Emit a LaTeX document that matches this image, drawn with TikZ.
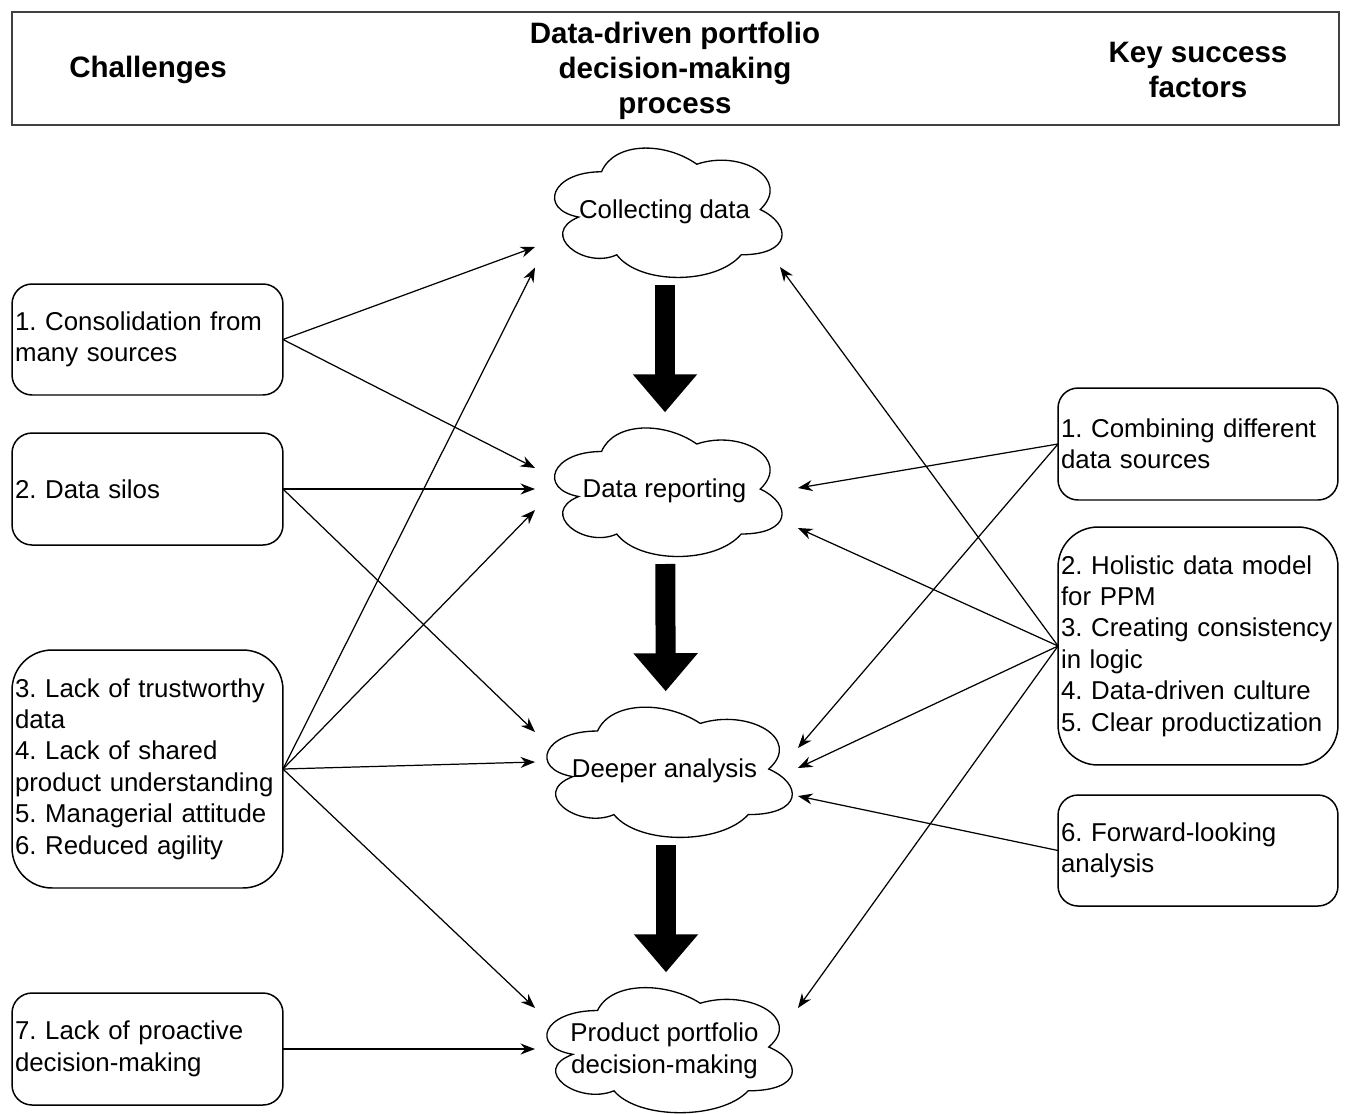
\documentclass[tikz,border=0pt]{standalone}
\usepackage{fontspec}
\setmainfont{Liberation Sans}
\usetikzlibrary{arrows.meta,calc}
\frenchspacing
\hyphenpenalty=10000

\tikzset{
  box/.style={draw, rounded corners=0.4cm, line width=0.85pt, align=left,
    inner xsep=0.06cm, inner ysep=0pt, outer sep=0pt},
  leftbox/.style={box, text width=5.3cm},
  rightbox/.style={box, text width=5.48cm},
  cloudbox/.style={inner sep=0pt, outer sep=0pt, align=center},
  cloudline/.style={draw, line width=0.75pt},
  conn/.style={-{Stealth[length=0.29cm,width=0.22cm]}, line width=0.7pt},
  bigarrow/.style={-{Triangle[width=1.24cm,length=0.76cm]}, line width=0.4cm, shorten >=1pt},
  headtext/.style={font=\fontsize{16.8}{19.9}\selectfont\bfseries, align=center}
}

% draw.io style cloud, #1 = north west corner, #2 = width, #3 = height
\newcommand{\ddcloud}[3]{%
  \draw[cloudline, shift={(#1)}, x=#2, y=#3] (0.25,0.25)
    .. controls (0.05,0.25) and (0,0.5) .. (0.16,0.55)
    .. controls (0,0.66) and (0.18,0.9) .. (0.31,0.8)
    .. controls (0.4,1) and (0.7,1) .. (0.8,0.8)
    .. controls (1,0.8) and (1,0.6) .. (0.875,0.5)
    .. controls (1,0.3) and (0.8,0.1) .. (0.625,0.2)
    .. controls (0.5,0.05) and (0.3,0.05) .. (0.25,0.25) -- cycle;}

\begin{document}
\begin{tikzpicture}[x=0.02cm, y=-0.02cm, font=\fontsize{14.7}{17.9}\selectfont]
\useasboundingbox (0,0) rectangle (1351,1113);

% header
\node[draw, line width=1.2pt, draw=black!75, minimum width=26.54cm, minimum height=2.26cm, outer sep=0pt] (head) at (675.5,68.5) {};
\node[headtext] (hchal) at (148,70) {Challenges};
\node[headtext] (hproc) at (675,71) {Data-driven portfolio\\decision-making\\process};
\node[headtext] (hkey) at (1198,70) {Key success\\factors};

% process clouds
\node[cloudbox, minimum width=5.08cm, minimum height=3.02cm] (collect) at (665,209.5) {};
\node[cloudbox, minimum width=5.08cm, minimum height=3.0cm] (report) at (665,489) {};
\node[cloudbox, minimum width=5.48cm, minimum height=3.04cm] (deep) at (666,769) {};
\node[cloudbox, minimum width=5.48cm, minimum height=2.92cm] (decide) at (666,1047) {};

\ddcloud{collect.north west}{5.08cm}{-3.02cm}
\ddcloud{report.north west}{5.08cm}{-3.0cm}
\ddcloud{deep.north west}{5.48cm}{-3.04cm}
\ddcloud{decide.north west}{5.48cm}{-2.92cm}

\node[cloudbox] (collecttext) at (664.5,212) {Collecting data};
\node[cloudbox] (reporttext) at (664.5,491) {Data reporting};
\node[cloudbox] (deeptext) at (664.5,771) {Deeper analysis};
\node[cloudbox] (decidetext) at (664.5,1051) {Product portfolio\\decision-making};

\draw[bigarrow] (collect) -- (report);
\draw[bigarrow] (report) -- (deep);
\draw[bigarrow] (deep) -- (decide);

% challenges
\node[leftbox, minimum height=2.22cm] (c1) at (147.5,339.5) {1. Consolidation from\\many sources};
\node[leftbox, minimum height=2.24cm] (c2) at (147.5,489) {2. Data silos};
\node[leftbox, minimum height=4.76cm, rounded corners=0.8cm] (c3) at (147.5,769) {3. Lack of trustworthy\\data\\4. Lack of shared\\product understanding\\5. Managerial attitude\\6. Reduced agility};
\node[leftbox, minimum height=2.24cm] (c7) at (147.5,1049) {7. Lack of proactive\\decision-making};

% key success factors
\node[rightbox, minimum height=2.24cm] (k1) at (1198,444) {1. Combining different\\data sources};
\node[rightbox, minimum height=4.76cm, rounded corners=0.8cm] (k2) at (1198,646) {2. Holistic data model\\for PPM\\3. Creating consistency\\in logic\\4. Data-driven culture\\5. Clear productization};
\node[rightbox, minimum height=2.22cm] (k6) at (1198,850.5) {6. Forward-looking\\analysis};

% challenges -> process
\draw[conn] (c1.east) -- ($(collect.west)+(-3,37.5)$);
\draw[conn] (c1.east) -- ($(report.west)+(-3,-21)$);
\draw[conn] (c2.east) -- ($(report.west)+(-3,0)$);
\draw[conn] (c2.east) -- ($(deep.west)+(6,-37)$);
\draw[conn] (c3.east) -- ($(collect.west)+(-3,58)$);
\draw[conn] (c3.east) -- ($(report.west)+(-3,21)$);
\draw[conn] (c3.east) -- ($(deep.west)+(6,-7)$);
\draw[conn] (c3.east) -- ($(decide.west)+(6,-39)$);
\draw[conn] (c7.east) -- ($(decide.west)+(6,2)$);

% success factors -> process
\draw[conn] (k1.west) -- ($(report.east)+(6,-1)$);
\draw[conn] (k1.west) -- ($(deep.east)+(-5,-21)$);
\draw[conn] (k2.west) -- ($(collect.east)+(-12,57.5)$);
\draw[conn] (k2.west) -- ($(report.east)+(6,39)$);
\draw[conn] (k2.west) -- ($(deep.east)+(-5,-1)$);
\draw[conn] (k2.west) -- ($(decide.east)+(-5,-39)$);
\draw[conn] (k6.west) -- ($(deep.east)+(-5,27)$);

\end{tikzpicture}
\end{document}
